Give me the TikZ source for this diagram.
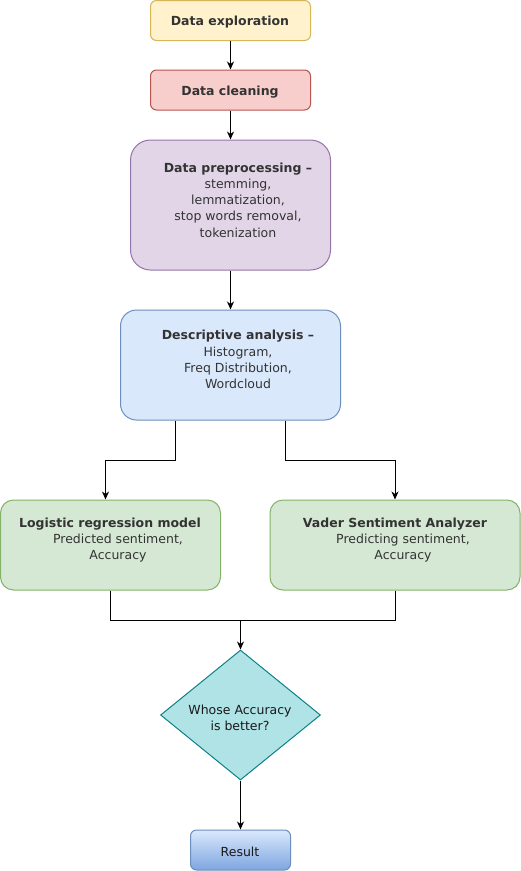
\documentclass[tikz,border=0pt]{standalone}
\usepackage{fontspec}
\setmainfont{DejaVu Sans}
\usetikzlibrary{shapes.geometric,arrows.meta}
\definecolor{yfill}{HTML}{FFF2CC}\definecolor{ystroke}{HTML}{D6B656}
\definecolor{rfill}{HTML}{F8CECC}\definecolor{rstroke}{HTML}{B85450}
\definecolor{pfill}{HTML}{E1D5E7}\definecolor{pstroke}{HTML}{9673A6}
\definecolor{bfill}{HTML}{DAE8FC}\definecolor{bstroke}{HTML}{6C8EBF}
\definecolor{gfill}{HTML}{D5E8D4}\definecolor{gstroke}{HTML}{82B366}
\definecolor{tfill}{HTML}{B0E3E6}\definecolor{tstroke}{HTML}{0E8088}
\definecolor{rbot}{HTML}{7EA6E0}
\definecolor{txt}{HTML}{333333}
\begin{document}
\begin{tikzpicture}[x=1pt,y=-1pt,
  box/.style={draw, line width=1pt, inner sep=0pt},
  lbl/.style={align=center, text=txt, inner sep=0pt, font=\fontsize{12.5}{16.2}\selectfont},
  arr/.style={draw, line width=1pt, -{Stealth[length=8pt,width=7pt,inset=2.5pt]}},
  ln/.style={draw, line width=1pt}]
\useasboundingbox (0,0) rectangle (521,871);
% boxes
\node[box, fill=yfill, draw=ystroke, rounded corners=6pt, minimum width=160pt, minimum height=40pt] (explore) at (230.5,20.5) {};
\node[box, fill=rfill, draw=rstroke, rounded corners=6pt, minimum width=160pt, minimum height=40pt] (clean) at (230.5,90) {};
\node[box, fill=pfill, draw=pstroke, rounded corners=20pt, minimum width=200pt, minimum height=130pt] (pre) at (230.5,205) {};
\node[box, fill=bfill, draw=bstroke, rounded corners=16pt, minimum width=220pt, minimum height=110pt] (desc) at (230.5,365) {};
\node[box, fill=gfill, draw=gstroke, rounded corners=13pt, minimum width=220pt, minimum height=90pt] (lr) at (110.5,545) {};
\node[box, fill=gfill, draw=gstroke, rounded corners=13pt, minimum width=250pt, minimum height=90pt] (vader) at (395,545) {};
\node[box, diamond, fill=tfill, draw=tstroke, minimum width=160pt, minimum height=130pt] (dia) at (240.5,715) {};
\node[box, draw=bstroke, rounded corners=6pt, top color=bfill, bottom color=rbot, minimum width=100pt, minimum height=40pt] (res) at (240.5,850) {};
% texts
\node[lbl] (explore-t) at (230,22.5) {\bfseries Data exploration};
\node[lbl] (clean-t) at (230,92.5) {\bfseries Data cleaning};
\node[lbl] (pre-t) at (238,200) {\textbf{Data preprocessing –}\\stemming,\\lemmatization,\\stop words removal,\\tokenization};
\node[lbl] (desc-t) at (238,359.5) {\textbf{Descriptive analysis –}\\Histogram,\\Freq Distribution,\\Wordcloud};
\node[lbl] (lr-t) at (110,540) {\textbf{Logistic regression model}\\\hspace*{16pt}Predicted sentiment,\\\hspace*{16pt}Accuracy};
\node[lbl] (vader-t) at (395,540) {\textbf{Vader Sentiment Analyzer}\\\hspace*{16pt}Predicting sentiment,\\\hspace*{16pt}Accuracy};
\node[lbl, text=black!90] (dia-t) at (240,718) {Whose Accuracy\\is better?};
\node[lbl, text=black!90] (res-t) at (240,852) {Result};
% connectors
\coordinate (merge) at (240.5,620.5);
\path[arr] (explore.south) -- (clean.north);
\path[arr] (clean.south) -- (pre.north);
\path[arr] (pre.south) -- (desc.north);
\path[arr] ([xshift=-55pt]desc.south) -- ++(0,40) -| ([xshift=-5pt]lr.north);
\path[arr] ([xshift=55pt]desc.south) -- ++(0,40) -| (vader.north);
\path[ln] (lr.south) |- (merge);
\path[ln] (vader.south) |- (merge);
\path[arr] (merge) -- (dia.north);
\path[arr] (dia.south) -- (res.north);
\end{tikzpicture}
\end{document}
